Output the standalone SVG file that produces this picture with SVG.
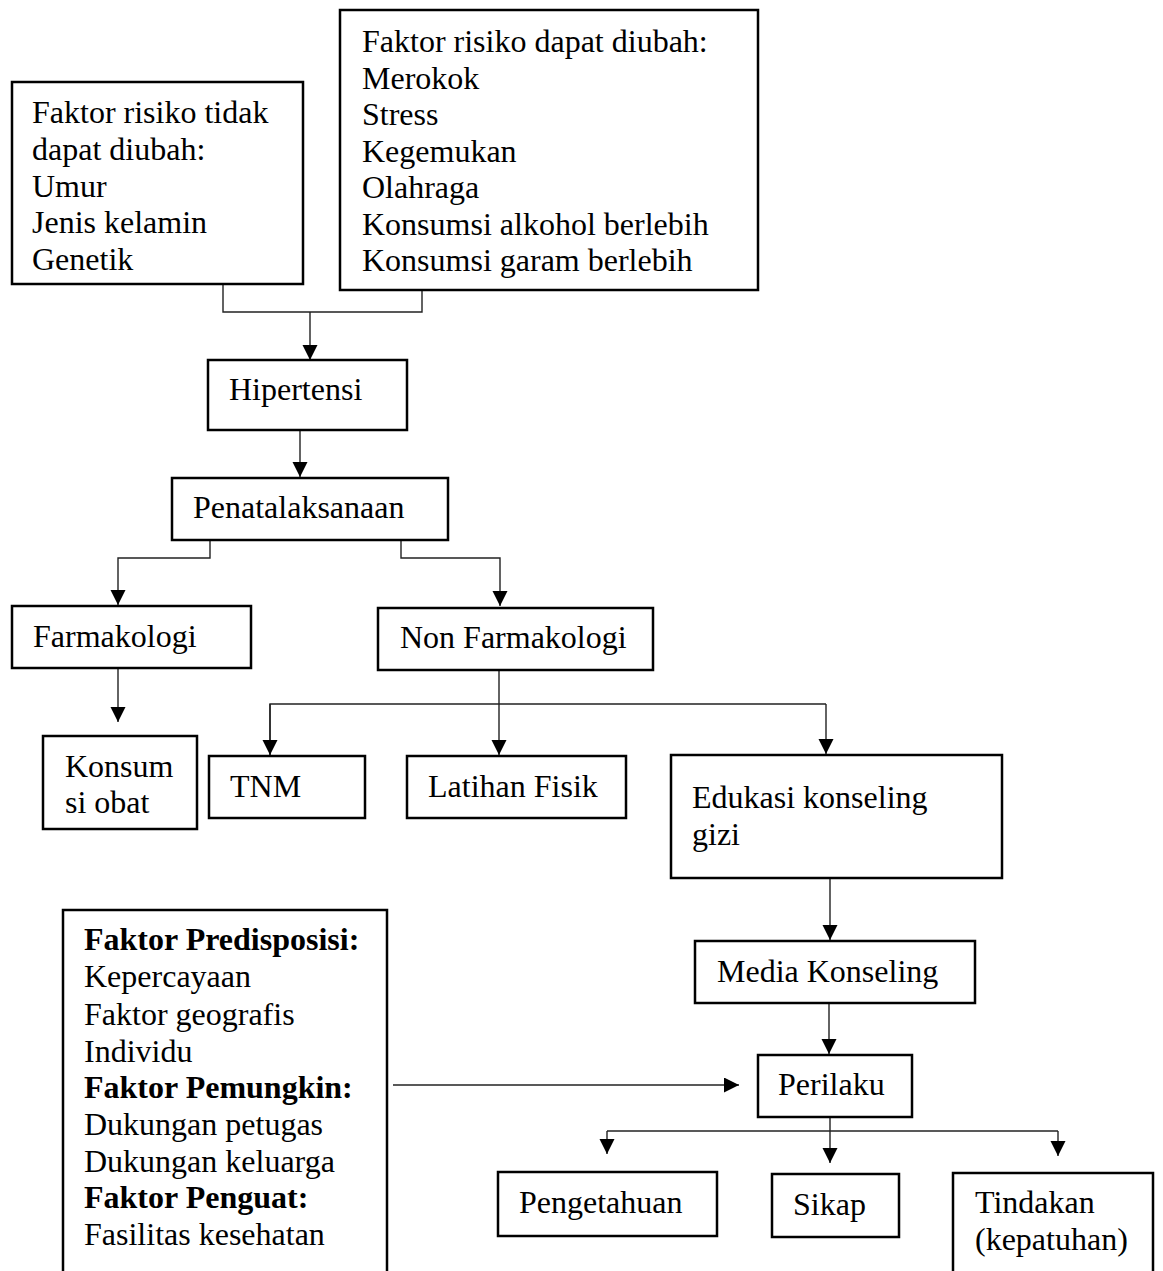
<svg xmlns="http://www.w3.org/2000/svg" width="1163" height="1271" viewBox="0 0 1163 1271">
<style>
.box{fill:#fff;stroke:#000;stroke-width:2.5}
.t{font-family:"Liberation Serif","Times New Roman",serif;font-size:32px;fill:#000}
.b{font-weight:bold}
.c{fill:none;stroke:#222;stroke-width:1.4}
</style>
<defs>
<marker id="ah" markerUnits="userSpaceOnUse" markerWidth="16" markerHeight="16" refX="15" refY="7.5" orient="auto">
<path d="M0,0 L15,7.5 L0,15 z" fill="#000"/>
</marker>
</defs>
<rect width="1163" height="1271" fill="#fff"/>
<g id="connectors">
<polyline class="c" points="223,284 223,312 422,312 422,290"/>
<line class="c" x1="310" y1="312" x2="310" y2="360" marker-end="url(#ah)"/>
<line class="c" x1="300" y1="430" x2="300" y2="477" marker-end="url(#ah)"/>
<polyline class="c" points="210,540 210,558 118,558 118,605" marker-end="url(#ah)"/>
<polyline class="c" points="401,540 401,558 500,558 500,606" marker-end="url(#ah)"/>
<line class="c" x1="118" y1="668" x2="118" y2="722" marker-end="url(#ah)"/>
<line class="c" x1="499" y1="670" x2="499" y2="755" marker-end="url(#ah)"/>
<polyline class="c" points="270,755 270,704 826,704"/>
<line class="c" x1="270" y1="704" x2="270" y2="755" marker-end="url(#ah)"/>
<line class="c" x1="826" y1="704" x2="826" y2="754" marker-end="url(#ah)"/>
<line class="c" x1="830" y1="878" x2="830" y2="940" marker-end="url(#ah)"/>
<line class="c" x1="829" y1="1003" x2="829" y2="1054" marker-end="url(#ah)"/>
<line class="c" x1="393" y1="1085" x2="739" y2="1085" marker-end="url(#ah)"/>
<line class="c" x1="830" y1="1117" x2="830" y2="1163" marker-end="url(#ah)"/>
<line class="c" x1="607" y1="1131" x2="1058" y2="1131"/>
<line class="c" x1="607" y1="1131" x2="607" y2="1154" marker-end="url(#ah)"/>
<line class="c" x1="1058" y1="1131" x2="1058" y2="1156" marker-end="url(#ah)"/>
</g>
<g id="faktor-tidak-diubah">
<rect class="box" x="12" y="82" width="291" height="202"/>
<text class="t" x="32" y="123">Faktor risiko tidak</text>
<text class="t" x="32" y="160">dapat diubah:</text>
<text class="t" x="32" y="197">Umur</text>
<text class="t" x="32" y="233">Jenis kelamin</text>
<text class="t" x="32" y="270">Genetik</text>
</g>
<g id="faktor-dapat-diubah">
<rect class="box" x="340" y="10" width="418" height="280"/>
<text class="t" x="362" y="52">Faktor risiko dapat diubah:</text>
<text class="t" x="362" y="88.5">Merokok</text>
<text class="t" x="362" y="125">Stress</text>
<text class="t" x="362" y="161.5">Kegemukan</text>
<text class="t" x="362" y="198">Olahraga</text>
<text class="t" x="362" y="234.5">Konsumsi alkohol berlebih</text>
<text class="t" x="362" y="271">Konsumsi garam berlebih</text>
</g>
<g id="hipertensi">
<rect class="box" x="208" y="360" width="199" height="70"/>
<text class="t" x="229" y="400">Hipertensi</text>
</g>
<g id="penatalaksanaan">
<rect class="box" x="172" y="478" width="276" height="62"/>
<text class="t" x="193" y="518">Penatalaksanaan</text>
</g>
<g id="farmakologi">
<rect class="box" x="12" y="606" width="239" height="62"/>
<text class="t" x="33" y="647">Farmakologi</text>
</g>
<g id="non-farmakologi">
<rect class="box" x="378" y="608" width="275" height="62"/>
<text class="t" x="400" y="648">Non Farmakologi</text>
</g>
<g id="konsumsi-obat">
<rect class="box" x="43" y="736" width="154" height="93"/>
<text class="t" x="65" y="777">Konsum</text>
<text class="t" x="65" y="813">si obat</text>
</g>
<g id="tnm">
<rect class="box" x="209" y="756" width="156" height="62"/>
<text class="t" x="230" y="797">TNM</text>
</g>
<g id="latihan-fisik">
<rect class="box" x="407" y="756" width="219" height="62"/>
<text class="t" x="428" y="797">Latihan Fisik</text>
</g>
<g id="edukasi">
<rect class="box" x="671" y="755" width="331" height="123"/>
<text class="t" x="692" y="808">Edukasi konseling</text>
<text class="t" x="692" y="845">gizi</text>
</g>
<g id="media-konseling">
<rect class="box" x="695" y="941" width="280" height="62"/>
<text class="t" x="717" y="982">Media Konseling</text>
</g>
<g id="perilaku">
<rect class="box" x="758" y="1055" width="154" height="62"/>
<text class="t" x="778" y="1095">Perilaku</text>
</g>
<g id="faktor-predisposisi">
<rect class="box" x="63" y="910" width="324" height="380"/>
<text class="t b" x="84" y="950">Faktor Predisposisi:</text>
<text class="t" x="84" y="987">Kepercayaan</text>
<text class="t" x="84" y="1025">Faktor geografis</text>
<text class="t" x="84" y="1062">Individu</text>
<text class="t b" x="84" y="1098">Faktor Pemungkin:</text>
<text class="t" x="84" y="1135">Dukungan petugas</text>
<text class="t" x="84" y="1172">Dukungan keluarga</text>
<text class="t b" x="84" y="1208">Faktor Penguat:</text>
<text class="t" x="84" y="1245">Fasilitas kesehatan</text>
</g>
<g id="pengetahuan">
<rect class="box" x="498" y="1172" width="219" height="64"/>
<text class="t" x="519" y="1213">Pengetahuan</text>
</g>
<g id="sikap">
<rect class="box" x="772" y="1174" width="127" height="63"/>
<text class="t" x="793" y="1215">Sikap</text>
</g>
<g id="tindakan">
<rect class="box" x="953" y="1173" width="200" height="110"/>
<text class="t" x="975" y="1213">Tindakan</text>
<text class="t" x="975" y="1250">(kepatuhan)</text>
</g>
</svg>
